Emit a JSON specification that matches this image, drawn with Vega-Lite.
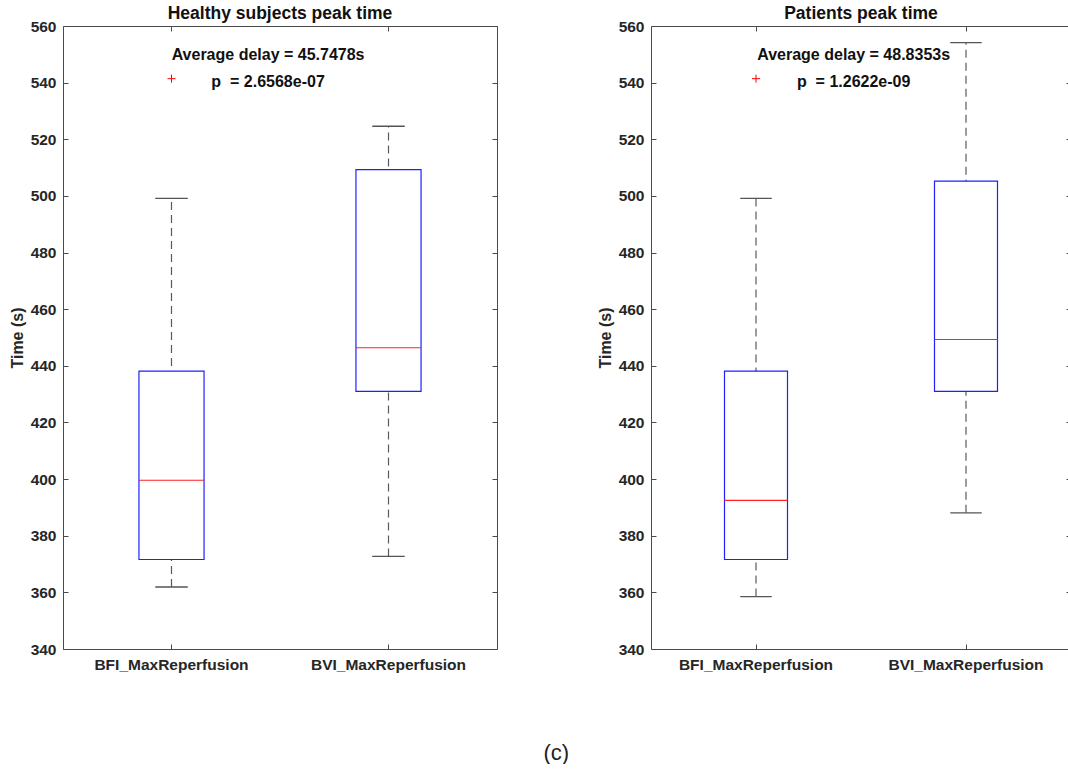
{
  "$schema": "https://vega.github.io/schema/vega-lite/v6.json",
  "padding": {"left": 8, "top": 4, "right": 0, "bottom": 0},
  "background": "white",
  "datasets": {
    "boxes": [
      {"panel": "Healthy", "group": "BFI_MaxReperfusion", "lower": 361.9, "q1": 371.6, "median": 399.6, "q3": 438.1, "upper": 499.1},
      {"panel": "Healthy", "group": "BVI_MaxReperfusion", "lower": 372.7, "q1": 431.0, "median": 446.4, "q3": 509.3, "upper": 524.6},
      {"panel": "Patients", "group": "BFI_MaxReperfusion", "lower": 358.5, "q1": 371.6, "median": 392.5, "q3": 438.1, "upper": 499.1},
      {"panel": "Patients", "group": "BVI_MaxReperfusion", "lower": 388.1, "q1": 431.0, "median": 449.3, "q3": 505.2, "upper": 554.1}
    ],
    "outliers": [
      {"panel": "Healthy", "group": "BFI_MaxReperfusion", "value": 541.4},
      {"panel": "Patients", "group": "BFI_MaxReperfusion", "value": 541.4}
    ],
    "notes": [
      {"panel": "Healthy", "group": "BFI_MaxReperfusion", "value": 549.6, "label": "Average delay = 45.7478s"},
      {"panel": "Healthy", "group": "BFI_MaxReperfusion", "value": 540.3, "label": "p\u00a0\u00a0= 2.6568e-07"},
      {"panel": "Patients", "group": "BFI_MaxReperfusion", "value": 549.6, "label": "Average delay = 48.8353s"},
      {"panel": "Patients", "group": "BFI_MaxReperfusion", "value": 540.3, "label": "p\u00a0\u00a0= 1.2622e-09"}
    ]
  },
  "title": {"text": "(c)", "orient": "bottom", "anchor": "middle", "offset": 69.5, "dx": 16, "fontSize": 22, "font": "Liberation Sans", "fontWeight": "normal", "color": "#222222"},
  "spacing": 98,
  "hconcat": [
    {
      "width": 434,
      "height": 623,
      "title": {"text": "Healthy subjects peak time", "offset": -3.5},
      "resolve": {"axis": {"x": "independent", "y": "independent"}},
      "layer": [
        {
          "data": {"name": "boxes"},
          "transform": [{"filter": "datum.panel === 'Healthy'"}],
          "mark": {"type": "rule", "stroke": "#5a5a5a", "strokeWidth": 1.2, "strokeDash": [8, 5]},
          "encoding": {
            "x": {"field": "group", "type": "nominal", "sort": null, "scale": {"paddingInner": 0, "paddingOuter": 0}, "axis": {"orient": "bottom", "title": null, "labelAngle": 0, "labelPadding": 13}},
            "y": {"field": "lower", "type": "quantitative", "scale": {"domain": [340, 560], "nice": false, "zero": false}, "axis": {"orient": "left", "title": "Time (s)", "tickCount": 11, "labelPadding": 12, "titlePadding": 5}},
            "y2": {"field": "upper"}
          }
        },
        {
          "data": {"name": "boxes"},
          "transform": [{"filter": "datum.panel === 'Healthy'"}],
          "mark": {"type": "bar", "width": {"band": 0.3}, "fill": "white", "stroke": "#2020ff", "strokeWidth": 1.2},
          "encoding": {
            "x": {"field": "group", "type": "nominal", "sort": null, "axis": {"orient": "top", "labels": false, "title": null}},
            "y": {"field": "q1", "type": "quantitative", "axis": {"orient": "right", "labels": false, "title": null, "tickCount": 11}},
            "y2": {"field": "q3"}
          }
        },
        {
          "data": {"name": "boxes"},
          "transform": [{"filter": "datum.panel === 'Healthy'"}],
          "mark": {"type": "bar", "width": {"band": 0.15}, "fillOpacity": 0, "stroke": "#555555", "strokeWidth": 1.3},
          "encoding": {
            "x": {"field": "group", "type": "nominal", "sort": null, "axis": null},
            "y": {"field": "upper", "type": "quantitative", "axis": null},
            "y2": {"field": "upper"}
          }
        },
        {
          "data": {"name": "boxes"},
          "transform": [{"filter": "datum.panel === 'Healthy'"}],
          "mark": {"type": "bar", "width": {"band": 0.15}, "fillOpacity": 0, "stroke": "#555555", "strokeWidth": 1.3},
          "encoding": {
            "x": {"field": "group", "type": "nominal", "sort": null, "axis": null},
            "y": {"field": "lower", "type": "quantitative", "axis": null},
            "y2": {"field": "lower"}
          }
        },
        {
          "data": {"name": "boxes"},
          "transform": [{"filter": "datum.panel === 'Healthy'"}],
          "mark": {"type": "bar", "width": {"band": 0.3}, "fillOpacity": 0, "stroke": "#ff2020", "strokeWidth": 1.1},
          "encoding": {
            "x": {"field": "group", "type": "nominal", "sort": null, "axis": null},
            "y": {"field": "median", "type": "quantitative", "axis": null},
            "y2": {"field": "median"}
          }
        },
        {
          "data": {"name": "outliers"},
          "transform": [{"filter": "datum.panel === 'Healthy'"}],
          "mark": {"type": "point", "shape": "M-1,0H1M0,-1V1", "filled": false, "stroke": "#ff0000", "strokeWidth": 1, "size": 64, "opacity": 1},
          "encoding": {
            "x": {"field": "group", "type": "nominal", "sort": null, "axis": null},
            "y": {"field": "value", "type": "quantitative", "axis": null}
          }
        },
        {
          "data": {"name": "notes"},
          "transform": [{"filter": "datum.panel === 'Healthy'"}],
          "mark": {"type": "text", "font": "Liberation Sans", "fontWeight": "bold", "fontSize": 16, "color": "#111111", "align": "center", "baseline": "middle"},
          "encoding": {
            "x": {"field": "group", "type": "nominal", "sort": null, "bandPosition": 0.945, "axis": null},
            "y": {"field": "value", "type": "quantitative", "axis": null},
            "text": {"field": "label"}
          }
        }
      ]
    },
    {
      "width": 420,
      "height": 623,
      "title": {"text": "Patients peak time", "offset": -3.5},
      "resolve": {"axis": {"x": "independent", "y": "independent"}},
      "layer": [
        {
          "data": {"name": "boxes"},
          "transform": [{"filter": "datum.panel === 'Patients'"}],
          "mark": {"type": "rule", "stroke": "#5a5a5a", "strokeWidth": 1.2, "strokeDash": [8, 5]},
          "encoding": {
            "x": {"field": "group", "type": "nominal", "sort": null, "scale": {"paddingInner": 0, "paddingOuter": 0}, "axis": {"orient": "bottom", "title": null, "labelAngle": 0, "labelPadding": 13}},
            "y": {"field": "lower", "type": "quantitative", "scale": {"domain": [340, 560], "nice": false, "zero": false}, "axis": {"orient": "left", "title": "Time (s)", "tickCount": 11, "labelPadding": 12, "titlePadding": 5}},
            "y2": {"field": "upper"}
          }
        },
        {
          "data": {"name": "boxes"},
          "transform": [{"filter": "datum.panel === 'Patients'"}],
          "mark": {"type": "bar", "width": {"band": 0.3}, "fill": "white", "stroke": "#2020ff", "strokeWidth": 1.2},
          "encoding": {
            "x": {"field": "group", "type": "nominal", "sort": null, "axis": {"orient": "top", "labels": false, "title": null}},
            "y": {"field": "q1", "type": "quantitative", "axis": {"orient": "right", "labels": false, "title": null, "tickCount": 11}},
            "y2": {"field": "q3"}
          }
        },
        {
          "data": {"name": "boxes"},
          "transform": [{"filter": "datum.panel === 'Patients'"}],
          "mark": {"type": "bar", "width": {"band": 0.15}, "fillOpacity": 0, "stroke": "#555555", "strokeWidth": 1.3},
          "encoding": {
            "x": {"field": "group", "type": "nominal", "sort": null, "axis": null},
            "y": {"field": "upper", "type": "quantitative", "axis": null},
            "y2": {"field": "upper"}
          }
        },
        {
          "data": {"name": "boxes"},
          "transform": [{"filter": "datum.panel === 'Patients'"}],
          "mark": {"type": "bar", "width": {"band": 0.15}, "fillOpacity": 0, "stroke": "#555555", "strokeWidth": 1.3},
          "encoding": {
            "x": {"field": "group", "type": "nominal", "sort": null, "axis": null},
            "y": {"field": "lower", "type": "quantitative", "axis": null},
            "y2": {"field": "lower"}
          }
        },
        {
          "data": {"name": "boxes"},
          "transform": [{"filter": "datum.panel === 'Patients'"}],
          "mark": {"type": "bar", "width": {"band": 0.3}, "fillOpacity": 0, "stroke": "#ff2020", "strokeWidth": 1.1},
          "encoding": {
            "x": {"field": "group", "type": "nominal", "sort": null, "axis": null},
            "y": {"field": "median", "type": "quantitative", "axis": null},
            "y2": {"field": "median"}
          }
        },
        {
          "data": {"name": "outliers"},
          "transform": [{"filter": "datum.panel === 'Patients'"}],
          "mark": {"type": "point", "shape": "M-1,0H1M0,-1V1", "filled": false, "stroke": "#ff0000", "strokeWidth": 1, "size": 64, "opacity": 1},
          "encoding": {
            "x": {"field": "group", "type": "nominal", "sort": null, "axis": null},
            "y": {"field": "value", "type": "quantitative", "axis": null}
          }
        },
        {
          "data": {"name": "notes"},
          "transform": [{"filter": "datum.panel === 'Patients'"}],
          "mark": {"type": "text", "font": "Liberation Sans", "fontWeight": "bold", "fontSize": 16, "color": "#111111", "align": "center", "baseline": "middle"},
          "encoding": {
            "x": {"field": "group", "type": "nominal", "sort": null, "bandPosition": 0.965, "axis": null},
            "y": {"field": "value", "type": "quantitative", "axis": null},
            "text": {"field": "label"}
          }
        }
      ]
    }
  ],
  "config": {
    "view": {"stroke": "#4a4a4a", "strokeWidth": 1},
    "axis": {
      "domain": false,
      "grid": false,
      "tickColor": "#4a4a4a",
      "tickSize": -5,
      "tickWidth": 1,
      "labelFont": "Liberation Sans",
      "labelFontWeight": "bold",
      "labelFontSize": 15.5,
      "labelColor": "#262626",
      "titleFont": "Liberation Sans",
      "titleFontSize": 16,
      "titleFontWeight": "bold",
      "titleColor": "#262626"
    },
    "title": {"font": "Liberation Sans", "fontSize": 17.5, "fontWeight": "bold", "color": "#111111"}
  }
}
